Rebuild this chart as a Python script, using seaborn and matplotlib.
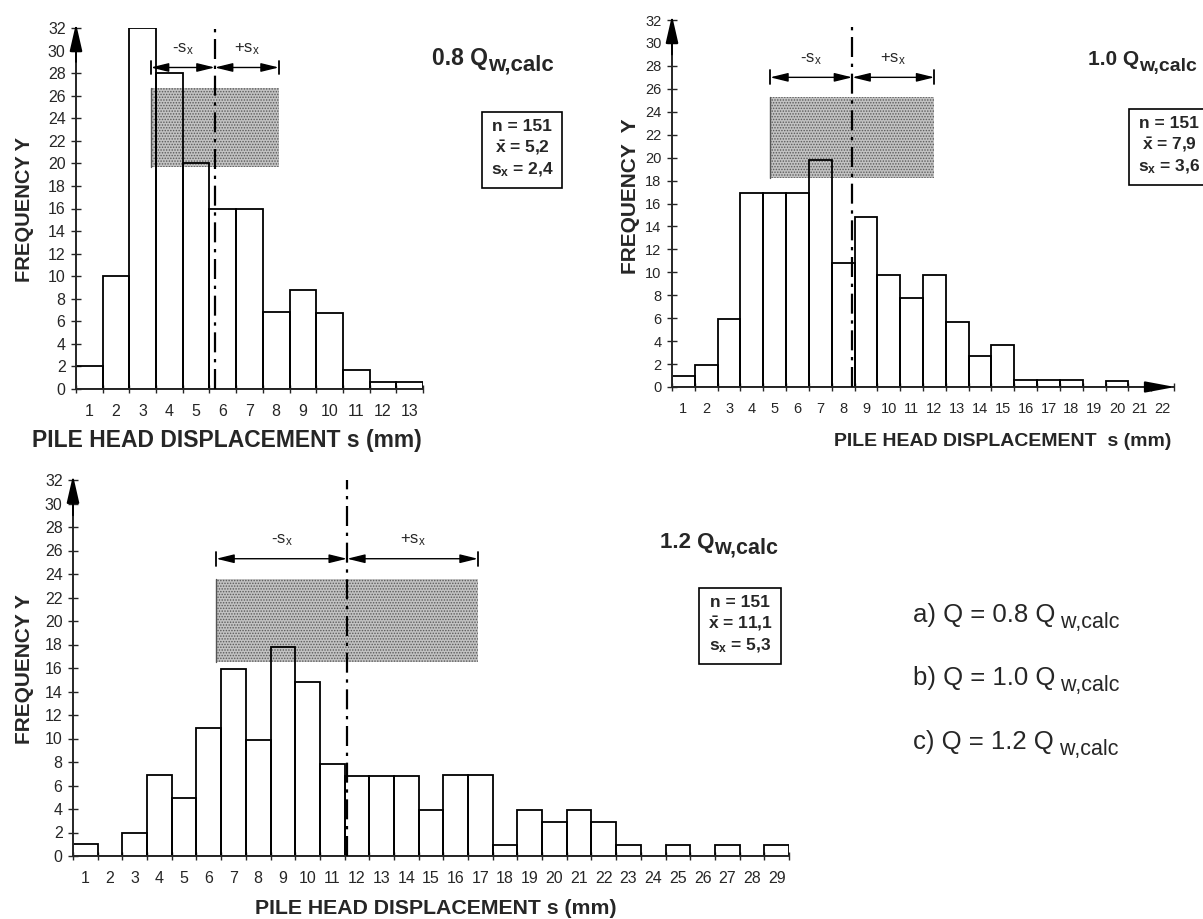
import matplotlib

matplotlib.use("Agg")
import matplotlib.pyplot as plt
import numpy as np
import pandas as pd
import seaborn as sns
from matplotlib.patches import Rectangle

# frequencies per 1 mm bin (bin k covers k-1 .. k mm)
freq_08 = [2, 10, 32, 28, 20, 16, 16, 6.8, 8.8, 6.7, 1.7, 0.6, 0.6]
freq_10 = [1, 1.9, 5.9, 16.9, 16.9, 16.9, 19.8, 10.8, 14.8, 9.8, 7.8, 9.8,
           5.7, 2.7, 3.7, 0.6, 0.6, 0.6, 0, 0.5, 0, 0]
freq_12 = [1, 0, 2, 6.9, 4.9, 10.9, 15.9, 9.9, 17.8, 14.8, 7.8, 6.8, 6.8,
           6.8, 3.9, 6.9, 6.9, 0.9, 3.9, 2.9, 3.9, 2.9, 0.9, 0, 0.9, 0, 0.9,
           0, 0.9]

load_factors = ["0.8", "1.0", "1.2"]
n_obs = [151, 151, 151]
means = [5.2, 7.9, 11.1]
stds = [2.4, 3.6, 5.3]
mean_text = ["5,2", "7,9", "11,1"]
std_text = ["2,4", "3,6", "5,3"]
case_letters = ["a)", "b)", "c)"]

W, H = 1203, 919

sns.set_style("ticks")
plt.rcParams["font.family"] = ["Liberation Sans", "DejaVu Sans"]
plt.rcParams["mathtext.fontset"] = "custom"
plt.rcParams["mathtext.rm"] = "Liberation Sans"
plt.rcParams["mathtext.bf"] = "Liberation Sans:bold"
plt.rcParams["mathtext.default"] = "regular"
plt.rcParams["hatch.linewidth"] = 0.7


def fx(px):
    return px / W


def fy(py):
    return 1 - py / H


fig = plt.figure(figsize=(W / 100, H / 100), dpi=100)
fig.patch.set_facecolor("white")

# pixel layout of each panel: left, right, y=0 row, y=32 row
panels = [
    dict(box=(76, 423, 389, 28), band=(19.7, 26.7), dim_y=28.5, tick_fs=11.5,
         ylab=("FREQUENCY Y", 25, 210, 14.5), xlab=("PILE HEAD DISPLACEMENT s (mm)", 227, 440, 16.5),
         title=(432, 65, 16.5, 16), stat=(522, 149, "center"), xarrow=False, line_top=32),
    dict(box=(672, 1174, 387, 20), band=(18.2, 25.3), dim_y=27.0, tick_fs=10.5,
         ylab=("FREQUENCY  Y", 631, 196, 15), xlab=("PILE HEAD DISPLACEMENT  s (mm)", 1003, 442, 14),
         title=(1088, 65, 15, 14), stat=(1138, 146, "left"), xarrow=True, line_top=31.7),
    dict(box=(73, 789, 856, 480), band=(16.5, 23.6), dim_y=25.3, tick_fs=11.5,
         ylab=("FREQUENCY Y", 25, 669, 15), xlab=("PILE HEAD DISPLACEMENT s (mm)", 436, 908, 15.3),
         title=(660, 548, 16, 15.5), stat=(740, 625, "center"), xarrow=False, line_top=32),
]
freqs = [freq_08, freq_10, freq_12]

for i, (p, freq) in enumerate(zip(panels, freqs)):
    left, right, y0, y32 = p["box"]
    ax = fig.add_axes([fx(left), fy(y0), (right - left) / W, (y0 - y32) / H])
    n_bins = len(freq)
    edges = np.arange(n_bins + 1)
    centers = edges[:-1] + 0.5
    df = pd.DataFrame({"s": centers, "freq": freq})
    sns.histplot(data=df, x="s", weights="freq", binwidth=1, binrange=(0, n_bins),
                 fill=False, color="black", linewidth=1.3, ax=ax, zorder=2)
    ax.set_xlim(0, n_bins)
    ax.set_ylim(0, 32)
    ax.set_facecolor("none")
    sns.despine(ax=ax)
    for side in ["left", "bottom"]:
        ax.spines[side].set_linewidth(1.4)

    ax.set_yticks(np.arange(0, 33, 2))
    ax.tick_params(axis="y", direction="inout", length=7, width=1, pad=4,
                   labelsize=p["tick_fs"])
    ax.set_xticks(edges)
    ax.set_xticklabels([])
    ax.tick_params(axis="x", which="major", direction="inout", length=6, width=1)
    ax.set_xticks(centers, minor=True)
    ax.set_xticklabels([str(k) for k in range(1, n_bins + 1)], minor=True)
    ax.tick_params(axis="x", which="minor", length=0, pad=11,
                   labelsize=p["tick_fs"])

    ax.set_ylabel("")
    ax.set_xlabel("")
    text, cx, cy, fs = p["ylab"]
    fig.text(fx(cx), fy(cy), text, rotation=90, ha="center", va="center",
             fontsize=fs, fontweight="bold")
    text, cx, cy, fs = p["xlab"]
    fig.text(fx(cx), fy(cy), text, ha="center", va="center",
             fontsize=fs, fontweight="bold")

    # axis arrows
    ax.annotate("", xy=(0, 32.4), xytext=(0, 29), xycoords="data",
                arrowprops=dict(arrowstyle="-|>,head_length=1.4,head_width=0.32",
                                color="black", lw=1.4, shrinkA=0, shrinkB=0,
                                mutation_scale=12), annotation_clip=False)
    if p["xarrow"]:
        ax.annotate("", xy=(n_bins + 0.05, 0), xytext=(n_bins - 1, 0),
                    arrowprops=dict(arrowstyle="-|>,head_length=1.5,head_width=0.28",
                                    color="black", lw=1.4, shrinkA=0, shrinkB=0,
                                    mutation_scale=12), annotation_clip=False)

    # +/- one standard deviation band and the mean line
    mean, std = means[i], stds[i]
    lo, hi = mean - std, mean + std
    b0, b1 = p["band"]
    ax.add_patch(Rectangle((lo, b0), hi - lo, b1 - b0, facecolor="#c2c2c2",
                           edgecolor="#5a5a5a", hatch="......", linewidth=0,
                           zorder=1))
    ax.plot([lo, lo], [b0, b1], color="#555555", lw=1.0, zorder=1)
    ax.plot([mean, mean], [0, p["line_top"]], color="black", lw=1.6,
            linestyle=(0, (9, 3, 1.5, 3)), zorder=3, clip_on=False)

    dy = p["dim_y"]
    for a, b in [(lo, mean), (mean, hi)]:
        ax.annotate("", xy=(b, dy), xytext=(a, dy),
                    arrowprops=dict(arrowstyle="<|-|>,head_length=0.9,head_width=0.22",
                                    color="black", lw=1.0, shrinkA=0, shrinkB=0,
                                    mutation_scale=12))
    for xe in [lo, hi]:
        ax.plot([xe, xe], [dy - 0.6, dy + 0.6], color="black", lw=1.3)
    ax.text((lo + mean) / 2, dy + 0.9, r"-s$_{x}$", ha="center", va="bottom",
            fontsize=12)
    ax.text((mean + hi) / 2, dy + 0.9, r"+s$_{x}$", ha="center", va="bottom",
            fontsize=12)

    # panel title
    tx, ty, fs_main, fs_sub = p["title"]
    t = fig.text(fx(tx), fy(ty), f"{load_factors[i]} Q", fontsize=fs_main,
                 fontweight="bold", ha="left", va="baseline")
    ax.annotate("w,calc", xy=(1, 0), xycoords=t, xytext=(0, -4),
                textcoords="offset points", fontsize=fs_sub, fontweight="bold",
                ha="left", va="bottom", annotation_clip=False)

    # statistics box
    sx, sy, sha = p["stat"]
    stat = (f"n = {n_obs[i]}\n" + r"$\bar{\mathregular{x}}$" + f" = {mean_text[i]}\n"
            + r"s$_{x}$" + f" = {std_text[i]}")
    fig.text(fx(sx), fy(sy), stat, ha=sha, va="center", multialignment="center",
             fontsize=12.5, fontweight="bold", linespacing=1.3,
             bbox=dict(boxstyle="square,pad=0.5", facecolor="white",
                       edgecolor="black", linewidth=1.2))

# case legend on the right
for i, base in enumerate([622, 685, 749]):
    t = fig.text(fx(913), fy(base), f"{case_letters[i]} Q = {load_factors[i]} Q",
                 fontsize=18.5, ha="left", va="baseline")
    ax.annotate(" w,calc", xy=(1, 0), xycoords=t, xytext=(0, -4),
                textcoords="offset points", fontsize=15.5, ha="left", va="bottom",
                annotation_clip=False)

fig.savefig("out.png", dpi=100, facecolor="white")
